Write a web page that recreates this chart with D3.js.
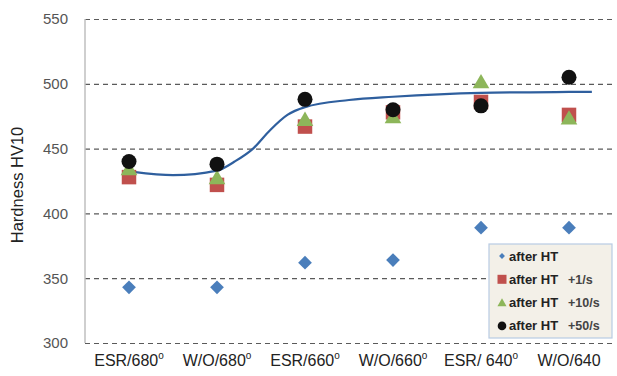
<!DOCTYPE html>
<html>
<head>
<meta charset="utf-8">
<script src="https://cdn.jsdelivr.net/npm/d3@7/dist/d3.min.js"></script>
<style>
  html, body { margin: 0; padding: 0; background: #fff; }
  svg { display: block; font-family: "Liberation Sans", Arial, sans-serif; }
</style>
</head>
<body>
<svg id="chart" width="617" height="376"></svg>
<script>
// Conditions along the x axis
const categories = ["ESR/680", "W/O/680", "ESR/660", "W/O/660", "ESR/ 640", "W/O/640"];
const showDegree = [true, true, true, true, true, false];

// Hardness (HV10) per condition
const afterHT    = [343, 343, 362, 364, 389, 389];
const afterHT1   = [428, 422, 467, 478, 486, 476];
const afterHT10  = [434, 427, 472, 474, 501, 473];
const afterHT50  = [440, 438, 488, 480, 483, 505];

// Fitted trend curve, sampled at fractional category positions
const trendPos = [0.05, 0.5, 1.0, 1.2, 1.41, 1.6, 1.8, 2.0, 2.5, 3.0, 4.0, 5.0, 5.26];
const trendVal = [432, 429.5, 433, 440, 450, 464, 476, 482, 487.5, 490, 493, 493.7, 493.8];

const yTicks = [300, 350, 400, 450, 500, 550];

const seriesLabels = ["after HT", "after HT", "after HT", "after HT"];
const seriesSuffix = ["", "+1/s", "+10/s", "+50/s"];

const svg = d3.select("#chart");
const plot = { left: 85, right: 613, top: 19, bottom: 343 };

const x = d3.scaleBand().domain(categories).range([plot.left, plot.right]);
const xPos = d3.scaleLinear().domain([0, 1]).range([x(categories[0]) + x.bandwidth() / 2, x(categories[1]) + x.bandwidth() / 2]);
const y = d3.scaleLinear().domain([300, 550]).range([plot.bottom, plot.top]);

// Dashed horizontal gridlines
const yAxis = d3.axisLeft(y).tickValues(yTicks).tickSize(-(plot.right - plot.left)).tickPadding(17).tickFormat(d3.format("d"));
const gy = svg.append("g").attr("transform", `translate(${plot.left},0)`).call(yAxis);
gy.select(".domain").remove();
gy.selectAll(".tick line")
  .attr("stroke", "#5a5a5a").attr("stroke-width", 1.2).attr("stroke-dasharray", "5,4");
gy.selectAll(".tick text")
  .attr("fill", "#555").style("font-size", "15px").style("font-family", "'Liberation Sans', Arial, sans-serif");

// Left axis line
svg.append("line")
  .attr("x1", plot.left).attr("x2", plot.left)
  .attr("y1", y(550)).attr("y2", y(300))
  .attr("stroke", "#bfbfbf").attr("stroke-width", 1.5);

// Category labels
const gx = svg.append("g").attr("transform", `translate(0,${plot.bottom})`)
  .call(d3.axisBottom(x).tickSize(0).tickPadding(0).tickFormat(() => ""));
gx.select(".domain").remove();
gx.selectAll(".tick").each(function(d, i) {
  const t = d3.select(this).append("text")
    .attr("y", 23).attr("text-anchor", "middle")
    .attr("fill", "#222").style("font-size", "16px");
  t.append("tspan").text(d);
  if (showDegree[i]) {
    t.append("tspan").text("o").attr("dy", -7).style("font-size", "10px");
  }
});

// Y axis title
svg.append("text")
  .attr("transform", `translate(23,${(plot.top + plot.bottom) / 2 + 4}) rotate(-90)`)
  .attr("text-anchor", "middle").attr("fill", "#222")
  .style("font-size", "16.5px").text("Hardness HV10");

// Trend curve
const line = d3.line()
  .x((d, i) => xPos(trendPos[i]))
  .y(d => y(d))
  .curve(d3.curveMonotoneX);
svg.append("path")
  .datum(trendVal)
  .attr("d", line)
  .attr("fill", "none").attr("stroke", "#2f5f9e").attr("stroke-width", 2.2);

const cx = (d, i) => x(categories[i]) + x.bandwidth() / 2;

// after HT: blue diamonds
svg.append("g").selectAll("path").data(afterHT).join("path")
  .attr("transform", (d, i) => `translate(${cx(d, i)},${y(d)})`)
  .attr("d", d3.symbol(d3.symbolDiamond2, 120)())
  .attr("fill", "#4a7ebb");

// +1/s: red squares
svg.append("g").selectAll("path").data(afterHT1).join("path")
  .attr("transform", (d, i) => `translate(${cx(d, i)},${y(d)})`)
  .attr("d", d3.symbol(d3.symbolSquare, 210)())
  .attr("fill", "#c0504d");

// +10/s: green triangles
svg.append("g").selectAll("path").data(afterHT10).join("path")
  .attr("transform", (d, i) => `translate(${cx(d, i)},${y(d) + 1})`)
  .attr("d", d3.symbol(d3.symbolTriangle, 120)())
  .attr("fill", "#8db65a");

// +50/s: black circles
svg.append("g").selectAll("circle").data(afterHT50).join("circle")
  .attr("cx", (d, i) => cx(d, i)).attr("cy", d => y(d))
  .attr("r", 7.5).attr("fill", "#111");

// Legend
const lg = svg.append("g").attr("transform", "translate(489,244)");
lg.append("rect").attr("width", 123).attr("height", 94)
  .attr("fill", "#f3f0e8").attr("stroke", "#b8cbe3").attr("stroke-width", 1.2);
const legendSymbols = [
  g => g.append("path").attr("d", d3.symbol(d3.symbolDiamond2, 22)()).attr("fill", "#4a7ebb"),
  g => g.append("rect").attr("x", -4.5).attr("y", -4.5).attr("width", 9).attr("height", 9).attr("fill", "#c0504d"),
  g => g.append("path").attr("d", d3.symbol(d3.symbolTriangle, 36)()).attr("transform", "translate(0,1)").attr("fill", "#8db65a"),
  g => g.append("circle").attr("r", 4.3).attr("fill", "#111")
];
seriesLabels.forEach((lab, i) => {
  const row = lg.append("g").attr("transform", `translate(13,${12 + i * 23.3})`);
  legendSymbols[i](row);
  row.append("text").attr("x", 7).attr("y", 4.5)
    .style("font-size", "13px").style("font-weight", "bold").attr("fill", "#222").text(lab);
  if (seriesSuffix[i]) {
    row.append("text").attr("x", 66).attr("y", 4.5)
      .style("font-size", "12.5px").style("font-weight", "bold").attr("fill", "#444").text(seriesSuffix[i]);
  }
});
</script>
</body>
</html>
